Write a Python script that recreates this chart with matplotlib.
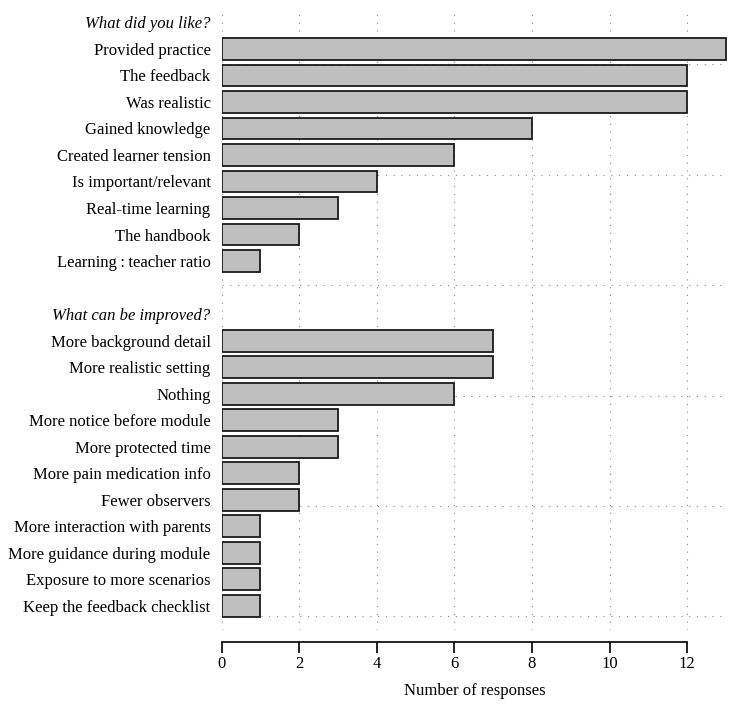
import matplotlib
matplotlib.use("Agg")
import matplotlib.pyplot as plt

plt.rcParams['font.family'] = ['Liberation Serif', 'DejaVu Serif']

liked_labels = ["Provided practice", "The feedback", "Was realistic", "Gained knowledge",
                "Created learner tension", "Is important/relevant", "Real-time learning",
                "The handbook", "Learning\u2009:\u2009teacher ratio"]
liked_counts = [13, 12, 12, 8, 6, 4, 3, 2, 1]

improve_labels = ["More background detail", "More realistic setting", "Nothing",
                  "More notice before module", "More protected time",
                  "More pain medication info", "Fewer observers",
                  "More interaction with parents", "More guidance during module",
                  "Exposure to more scenarios", "Keep the feedback checklist"]
improve_counts = [7, 7, 6, 3, 3, 2, 2, 1, 1, 1, 1]

headings = ["What did you like?", "What can be improved?"]

# build row layout: heading, items, blank, heading, items
labels = [headings[0]] + liked_labels + [""] + [headings[1]] + improve_labels
values = [0] + liked_counts + [0] + [0] + improve_counts
rows = list(range(len(labels)))

fig = plt.figure(figsize=(7.39, 7.06), dpi=100)
ax = fig.add_axes([0.300, 0.108, 0.685, 0.881])

grid_kw = dict(color='#888888', linestyle=(0, (1, 6)), linewidth=0.8, zorder=0)
for x in range(0, 13, 2):
    ax.axvline(x, **grid_kw)
for y in [1.58, 5.74, 9.9, 14.07, 18.23, 22.4]:
    ax.axhline(y, **grid_kw)

bar_rows = [r for r, v in zip(rows, values) if v > 0]
bar_vals = [v for v in values if v > 0]
ax.barh(bar_rows, bar_vals, height=0.82, color='#bfbfbf', edgecolor='#1a1a1a',
        linewidth=1.3, zorder=2)

ax.set_yticks(rows)
ax.set_yticklabels(labels, fontsize=12)
for lab, txt in zip(ax.get_yticklabels(), labels):
    if txt in headings:
        lab.set_style('italic')
ax.tick_params(axis='y', length=0, pad=8)

ax.set_ylim(22.9, -0.55)
ax.set_xlim(0, 13.05)
ax.set_xticks(range(0, 13, 2))
ax.tick_params(axis='x', direction='out', length=8, width=1.2, labelsize=12, pad=2)
ax.set_xlabel("Number of responses", fontsize=12, labelpad=8)

for s in ['top', 'right', 'left']:
    ax.spines[s].set_visible(False)
ax.spines['bottom'].set_position(('outward', 9))
ax.spines['bottom'].set_bounds(0, 12)
ax.spines['bottom'].set_linewidth(1.2)

fig.savefig("out.png", dpi=100)
